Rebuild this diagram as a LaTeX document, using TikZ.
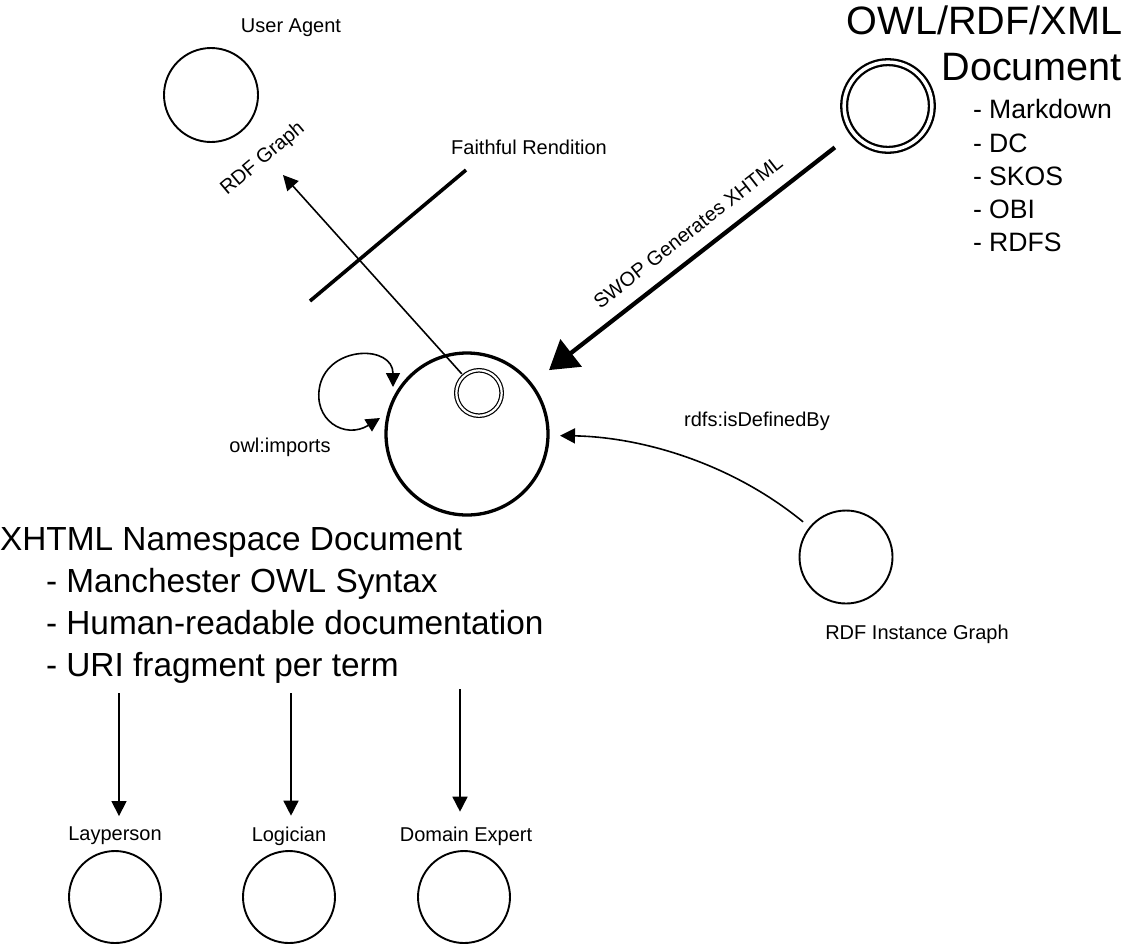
\documentclass[tikz,border=0pt]{standalone}
\usepackage{fontspec}
\setmainfont{Liberation Sans}
\usetikzlibrary{arrows.meta}

\begin{document}
\begin{tikzpicture}[x=1pt, y=-1pt,
    every node/.append style={inner sep=0pt, outer sep=0pt},
    actor/.style={draw, circle, line width=1.9pt, minimum size=92pt},
    lbl/.style={font=\fontsize{20}{24}\selectfont},
    doclist/.style={font=\fontsize{26.6}{33.3}\selectfont, align=left},
    nslist/.style={font=\fontsize{33.4}{41.7}\selectfont, align=left},
    doctitle/.style={font=\fontsize{39.6}{47}\selectfont, align=right},
    arr/.style={line width=1.6pt, -{Triangle[length=15pt, width=15pt]}},
    arrboth/.style={line width=1.6pt, {Triangle[length=14pt, width=14pt]}-{Triangle[length=14pt, width=14pt]}}]
    \useasboundingbox (0, 0) rectangle (1123, 946);

    % circles
    \node[actor, minimum size=94pt] (agent) at (211, 95) {};
    \node[draw, circle, double, line width=2.3pt, double distance=3.5pt, minimum size=87.7pt] (owl) at (888, 106) {};
    \node[draw, circle, line width=3.3pt, minimum size=162pt] (main) at (467, 434) {};
    \node[draw, circle, double, line width=1.2pt, double distance=2.2pt, minimum size=45.4pt] (inner) at (479, 393) {};
    \node[actor, minimum size=93pt] (inst) at (846, 557) {};
    \node[actor] (lay) at (115, 897) {};
    \node[actor] (logic) at (289, 897) {};
    \node[actor] (expert) at (464, 897) {};

    % labels
    \node[lbl] (agentlbl) at (291, 28) {User Agent};
    \node[lbl, rotate=40] (graphlbl) at (263, 159) {RDF Graph};
    \node[lbl] (faithlbl) at (529, 147) {Faithful Rendition};
    \node[lbl, rotate=38] (swoplbl) at (688, 232) {SWOP Generates XHTML};
    \node[lbl] (importlbl) at (280, 447) {owl:imports};
    \node[lbl] (defbylbl) at (757, 421) {rdfs:isDefinedBy};
    \node[lbl] (instlbl) at (917, 634) {RDF Instance Graph};
    \node[lbl] (laylbl) at (115, 836) {Layperson};
    \node[lbl] (logiclbl) at (289, 836) {Logician};
    \node[lbl] (expertlbl) at (466, 836) {Domain Expert};

    \node[doctitle, anchor=north east] (owltitle) at (1122, 5.3) {OWL/RDF/XML\\Document};
    \node[doclist, anchor=north west] (owllist) at (973, 99.5) {- Markdown\\- DC\\- SKOS\\- OBI\\- RDFS};
    \node[nslist, anchor=north west] (nsdoc) at (0, 528) {XHTML Namespace Document\\
        \hspace*{46pt}- Manchester OWL Syntax\\
        \hspace*{46pt}- Human-readable documentation\\
        \hspace*{46pt}- URI fragment per term};

    % connectors
    \coordinate (graphend) at (283, 175);
    \coordinate (faitha) at (310, 301);
    \coordinate (faithb) at (466, 170);
    \coordinate (impa) at (380, 418);
    \coordinate (impb) at (393, 387);
    \coordinate (src1) at (119, 693);
    \coordinate (src2) at (291, 693);
    \coordinate (src3) at (460, 689);

    \draw[arr, shorten <=3pt] (inner) -- (graphend);
    \draw[line width=3.6pt] (faitha) -- (faithb);
    \draw[line width=4.3pt, -{Triangle[length=28pt, width=34pt]}, shorten <=23.5pt, shorten >=23pt] (owl) -- (main);
    \draw[arr, shorten <=9pt, shorten >=12pt] (inst) .. controls (730, 462) and (640, 437) .. (main);
    \draw[arrboth] (impa) .. controls (345, 440) and (312, 420) .. (320, 385)
        .. controls (330, 345) and (393, 345) .. (impb);
    \draw[arr, shorten >=11pt] (src1) -- (src1 |- laylbl.north);
    \draw[arr, shorten >=11pt] (src2) -- (src2 |- logiclbl.north);
    \draw[arr, shorten >=15pt] (src3) -- (src3 |- expertlbl.north);
\end{tikzpicture}
\end{document}
